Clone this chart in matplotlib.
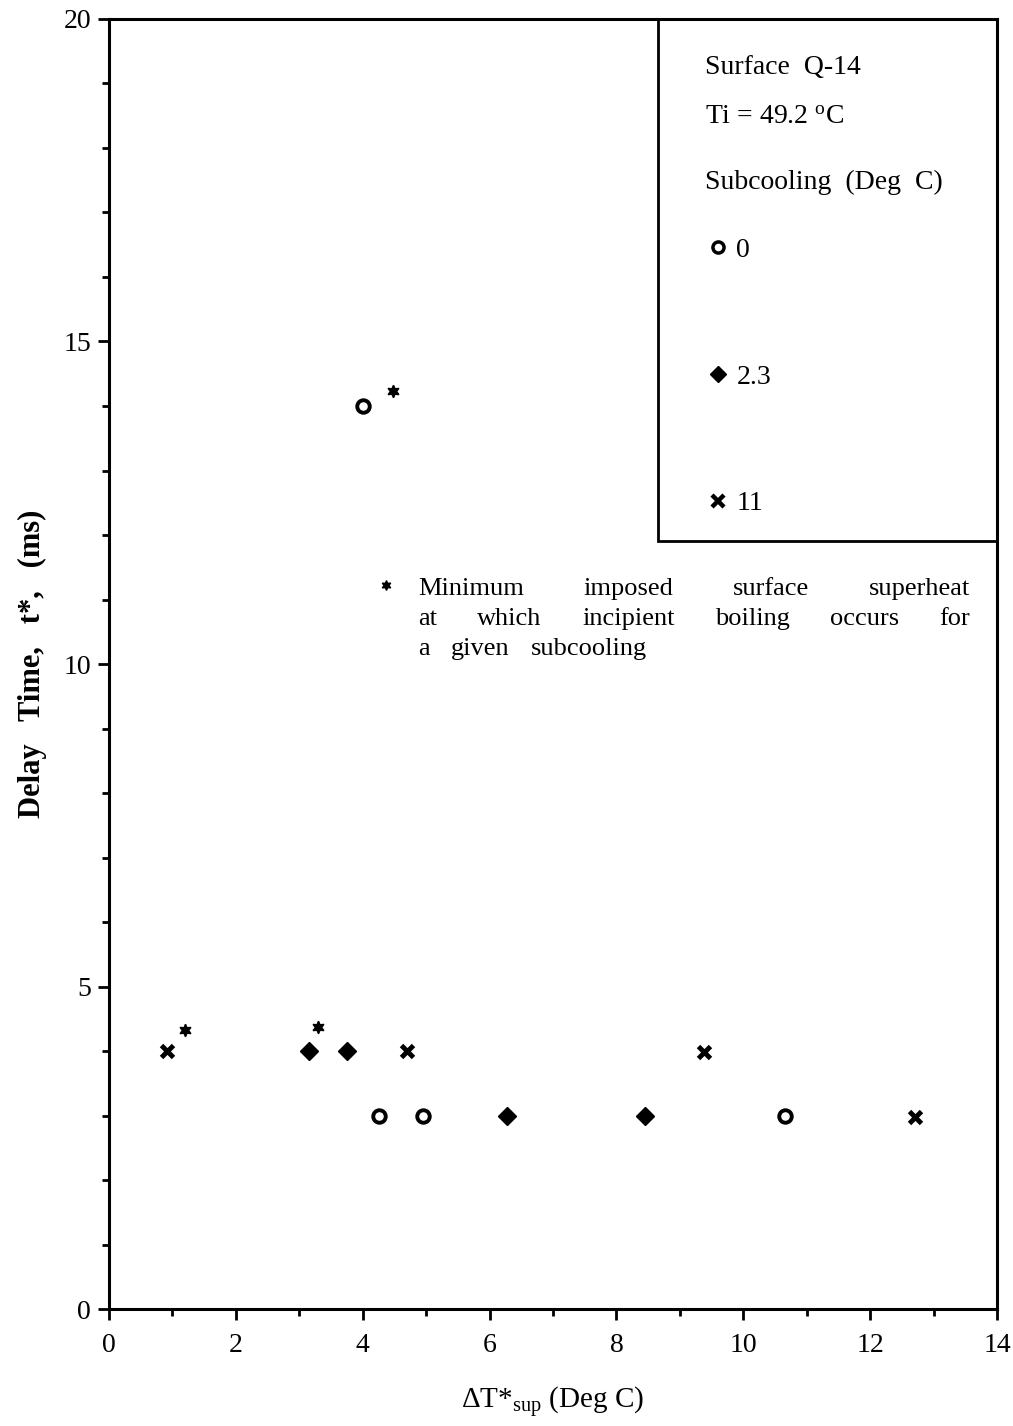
import numpy as np
import matplotlib
matplotlib.use("Agg")
import matplotlib.pyplot as plt
from matplotlib.lines import Line2D
from matplotlib.patches import Rectangle
from matplotlib.ticker import MultipleLocator

# Data
x_sub0 = [4.0, 4.25, 4.95, 10.65]
y_sub0 = [14.0, 3.0, 3.0, 3.0]

x_sub23 = [3.15, 3.75, 6.28, 8.45]
y_sub23 = [4.0, 4.0, 3.0, 3.0]

x_sub11 = [0.92, 4.7, 9.38, 12.7]
y_sub11 = [4.0, 4.0, 3.98, 2.98]

x_min = [1.2, 3.3, 4.48]
y_min = [4.33, 4.38, 14.23]

legend_labels = ["0", "2.3", "11"]
note_lines = ["Minimum imposed surface superheat",
              "at which incipient boiling occurs for",
              "a given subcooling"]

plt.rcParams.update({
    "font.family": ["Liberation Serif", "DejaVu Serif"],
    "mathtext.fontset": "custom",
    "mathtext.rm": "Liberation Serif",
    "mathtext.it": "Liberation Serif:italic",
    "mathtext.bf": "Liberation Serif:bold",
    "font.size": 19,
})

fig = plt.figure(figsize=(10.13, 14.26), dpi=100)
ax = fig.add_axes([0.1076, 0.082, 0.8766, 0.9047])

ms_kw = dict(linestyle="none", color="black")
ax.plot(x_sub0, y_sub0, marker="o", markersize=9, markerfacecolor="white",
        markeredgewidth=2.8, **ms_kw)
ax.plot(x_sub23, y_sub23, marker="D", markersize=9.5, **ms_kw)
ax.plot(x_sub11, y_sub11, marker="x", markersize=9, markeredgewidth=3.5, **ms_kw)
ax.plot(x_min, y_min, marker=(6, 1, 0), markersize=9, **ms_kw)

ax.set_xlim(0, 14)
ax.set_ylim(0, 20)
ax.xaxis.set_major_locator(MultipleLocator(2))
ax.xaxis.set_minor_locator(MultipleLocator(1))
ax.yaxis.set_major_locator(MultipleLocator(5))
ax.yaxis.set_minor_locator(MultipleLocator(1))
ax.tick_params(which="major", length=8, width=2, labelsize=20, pad=5)
ax.tick_params(which="minor", length=5, width=2)
ax.tick_params(axis="x", pad=9)
for s in ax.spines.values():
    s.set_linewidth(2.2)

ax.set_xlabel(r"$\Delta$T*$_{\rm sup}$ (Deg C)", fontsize=21, labelpad=20)
ax.set_ylabel("Delay   Time,   t*,   (ms)", fontsize=22, fontweight="bold", labelpad=12)

# legend box sharing the top/right frame
ax.add_patch(Rectangle((0.618, 0.595), 0.382, 0.405, transform=ax.transAxes,
                       fill=False, edgecolor="black", linewidth=2, zorder=3))
ax.text(0.671, 0.962, "Surface  Q-14", transform=ax.transAxes, va="center", fontsize=20)
ax.text(0.671, 0.924, r"Ti = 49.2 $^{\rm o}$C", transform=ax.transAxes, va="center", fontsize=20)
ax.text(0.671, 0.873, "Subcooling  (Deg  C)", transform=ax.transAxes, va="center", fontsize=20)

handles = [
    Line2D([], [], marker="o", markersize=8, markerfacecolor="white",
           markeredgewidth=2.5, **ms_kw),
    Line2D([], [], marker="D", markersize=8, **ms_kw),
    Line2D([], [], marker="x", markersize=8, markeredgewidth=3.2, **ms_kw),
]
ax.legend(handles, legend_labels, loc="upper left", bbox_to_anchor=(0.672, 0.8307),
          frameon=False, fontsize=20, labelspacing=3.65, handlelength=0.9,
          handletextpad=0.2, borderpad=0, borderaxespad=0)

# footnote with the asterisk
ax.plot([0.312], [0.561], marker=(6, 1, 0), markersize=7, transform=ax.transAxes, **ms_kw)
x_left, x_right = 0.348, 0.970
line_y = [0.558, 0.535, 0.512]
fig.canvas.draw()
renderer = fig.canvas.get_renderer()
inv = ax.transAxes.inverted()
for i, (line, yy) in enumerate(zip(note_lines, line_y)):
    words = line.split()
    texts = [ax.text(0, yy, w, transform=ax.transAxes, va="center", fontsize=19)
             for w in words]
    widths = []
    for t in texts:
        bb = t.get_window_extent(renderer)
        p0 = inv.transform((bb.x0, bb.y0))
        p1 = inv.transform((bb.x1, bb.y1))
        widths.append(p1[0] - p0[0])
    if i < len(note_lines) - 1:
        gap = (x_right - x_left - sum(widths)) / (len(words) - 1)
    else:
        gap = 0.024
    xpos = x_left
    for t, w in zip(texts, widths):
        t.set_x(xpos)
        xpos += w + gap

fig.savefig("out.png", dpi=100)
